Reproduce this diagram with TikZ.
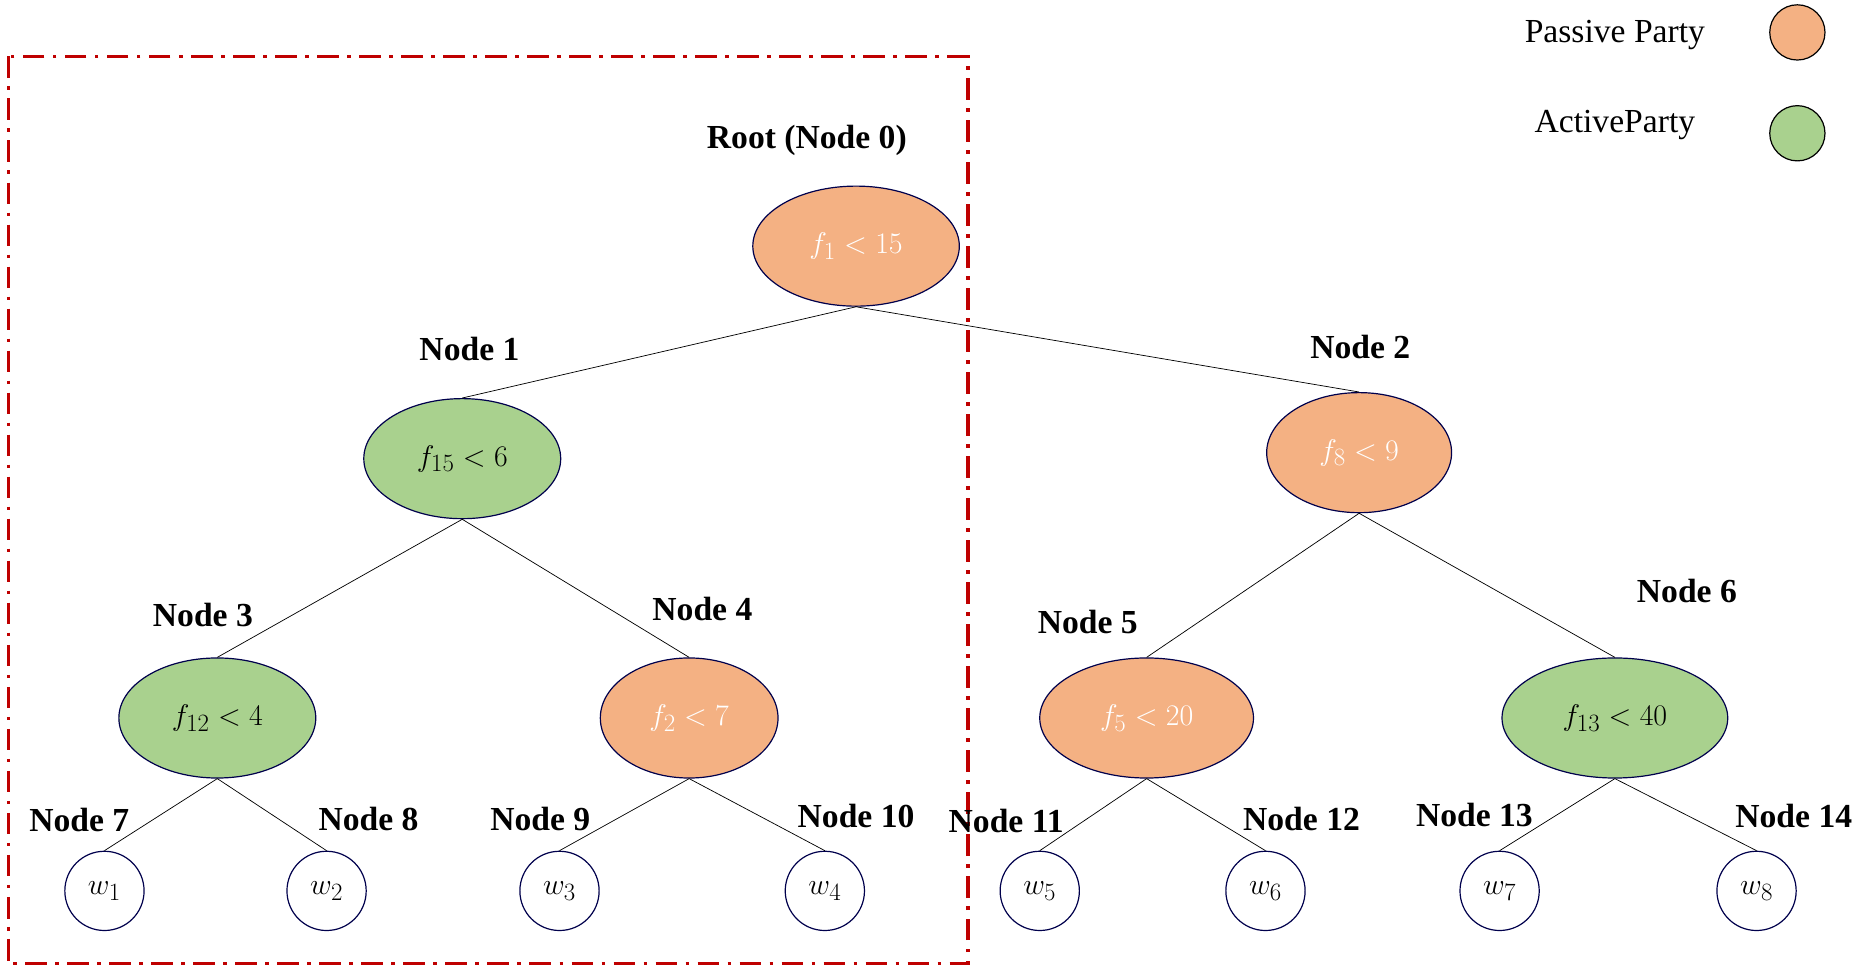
\documentclass[tikz,border=0pt]{standalone}
\usepackage{fontspec}
\setmainfont{Liberation Serif}
\usetikzlibrary{shapes.geometric}
\begin{document}
\begin{tikzpicture}[x=1pt,y=-1pt,
 lab/.style={font=\fontsize{28}{32}\selectfont\bfseries},
 inner/.style={ellipse,draw=blue!30!black,line width=1pt,text=white,font=\fontsize{28}{32}\selectfont,minimum height=100pt,inner sep=0pt},
 pas/.style={inner,fill={rgb,255:red,244;green,177;blue,131}},
 act/.style={inner,text=black,fill={rgb,255:red,169;green,209;blue,142}},
 leaf/.style={circle,draw=blue!30!black,line width=1pt,minimum size=66pt,inner sep=0pt,font=\fontsize{28}{32}\selectfont},
 edge/.style={line width=0.6pt}]
\useasboundingbox (0,0) rectangle (1560,803);
\draw[red!75!black,line width=3pt,dash pattern=on 18pt off 7pt on 3pt off 7pt] (7,47) rectangle (806,803);
\node[pas,minimum width=172pt] (n0) at (713,205) {$f_1<15$};
\node[act,minimum width=164pt] (n1) at (385,382) {$f_{15}<6$};
\node[pas,minimum width=154pt] (n2) at (1132,377) {$f_8<9$};
\node[act,minimum width=164pt] (n3) at (181,598) {$f_{12}<4$};
\node[pas,minimum width=148pt] (n4) at (574,598) {$f_2<7$};
\node[pas,minimum width=178pt] (n5) at (955,598) {$f_5<20$};
\node[act,minimum width=188pt] (n6) at (1345,598) {$f_{13}<40$};
\foreach \i/\x in {1/87,2/272,3/466,4/687,5/866,6/1054,7/1249,8/1463}
  \node[leaf] (w\i) at (\x,742) {$w_\i$};
\node[lab] (l0) at (672,117) {Root (Node 0)};
\node[lab] (l1) at (391,291) {Node 1};
\node[lab] (l2) at (1133,289) {Node 2};
\node[lab] (l3) at (169,512) {Node 3};
\node[lab] (l4) at (585,507) {Node 4};
\node[lab] (l5) at (906,518) {Node 5};
\node[lab] (l6) at (1405,492) {Node 6};
\node[lab] (l7) at (66,683) {Node 7};
\node[lab] (l8) at (307,682) {Node 8};
\node[lab] (l9) at (450,682) {Node 9};
\node[lab] (l10) at (713,680) {Node 10};
\node[lab] (l11) at (838,684) {Node 11};
\node[lab] (l12) at (1084,682) {Node 12};
\node[lab] (l13) at (1228,679) {Node 13};
\node[lab] (l14) at (1494,680) {Node 14};
\draw[edge] (n0.south) -- (n1.north) (n0.south) -- (n2.north)
 (n1.south) -- (n3.north) (n1.south) -- (n4.north)
 (n2.south) -- (n5.north) (n2.south) -- (n6.north)
 (n3.south) -- (w1.north) (n3.south) -- (w2.north)
 (n4.south) -- (w3.north) (n4.south) -- (w4.north)
 (n5.south) -- (w5.north) (n5.south) -- (w6.north)
 (n6.south) -- (w7.north) (n6.south) -- (w8.north);
\node[font=\fontsize{28}{32}\selectfont] (lp) at (1345,29) {Passive Party};
\node[circle,draw=black,line width=1pt,minimum size=46pt,fill={rgb,255:red,244;green,177;blue,131}] (cp) at (1497,27) {};
\node[font=\fontsize{28}{32}\selectfont] (la) at (1345,104) {ActiveParty};
\node[circle,draw=black,line width=1pt,minimum size=46pt,fill={rgb,255:red,169;green,209;blue,142}] (ca) at (1497,111) {};
\end{tikzpicture}
\end{document}
